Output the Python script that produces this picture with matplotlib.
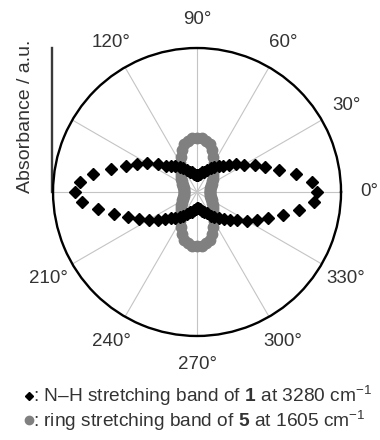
import numpy as np
import matplotlib
matplotlib.use("Agg")
import matplotlib.pyplot as plt
from matplotlib.lines import Line2D

plt.rcParams['font.family'] = ['Liberation Sans', 'DejaVu Sans']
plt.rcParams['mathtext.fontset'] = 'custom'
plt.rcParams['mathtext.rm'] = 'Liberation Sans'
plt.rcParams['mathtext.bf'] = 'Liberation Sans:bold'

# polarization angle (deg), every 5 deg
angle = np.arange(0, 360, 5)

# N-H stretching band of 1 at 3280 cm-1
nh_band = [1.00, 0.96, 0.84, 0.71, 0.60, 0.53, 0.45, 0.40, 0.35, 0.31, 0.28, 0.25,
           0.23, 0.20, 0.18, 0.17, 0.15, 0.14, 0.14, 0.14, 0.15, 0.17, 0.18, 0.20,
           0.23, 0.25, 0.28, 0.31, 0.34, 0.40, 0.48, 0.55, 0.63, 0.74, 0.88, 0.98,
           1.02, 0.96, 0.84, 0.72, 0.61, 0.53, 0.46, 0.40, 0.35, 0.31, 0.28, 0.25,
           0.23, 0.20, 0.18, 0.17, 0.15, 0.14, 0.13, 0.13, 0.14, 0.16, 0.18, 0.19,
           0.23, 0.25, 0.28, 0.32, 0.36, 0.41, 0.48, 0.55, 0.63, 0.74, 0.86, 0.98]

# ring stretching band of 5 at 1605 cm-1
ring_band = [0.11, 0.11, 0.11, 0.115, 0.12, 0.13, 0.14, 0.155, 0.17, 0.19, 0.21, 0.24,
             0.28, 0.32, 0.37, 0.41, 0.43, 0.45, 0.45, 0.45, 0.43, 0.41, 0.37, 0.32,
             0.28, 0.24, 0.21, 0.19, 0.17, 0.155, 0.14, 0.13, 0.12, 0.115, 0.11, 0.11,
             0.11, 0.11, 0.11, 0.115, 0.12, 0.13, 0.14, 0.155, 0.17, 0.19, 0.21, 0.24,
             0.28, 0.32, 0.37, 0.41, 0.43, 0.45, 0.45, 0.45, 0.43, 0.41, 0.37, 0.32,
             0.28, 0.24, 0.21, 0.19, 0.17, 0.155, 0.14, 0.13, 0.12, 0.115, 0.11, 0.11]

grid_angles = [0, 30, 60, 90, 120, 150, 180, 210, 240, 270, 300, 330]
angle_labels = ['0°', '30°', '60°', '90°', '120°', '', '', '210°', '240°', '270°', '300°', '330°']

r_max = 1.2
txt = '#333333'

fig = plt.figure(figsize=(3.8, 4.4), dpi=100)
ax = fig.add_axes([0.1395, 0.2364, 0.758, 0.6545], projection='polar')

th = np.radians(angle)
ax.plot(th, ring_band, 'o', ms=7.5, color='#808080', mec='#808080', ls='none', zorder=3)
ax.plot(th, nh_band, 'D', ms=6, color='black', ls='none', zorder=4)

ax.set_ylim(0, r_max)
ax.set_yticks([])
ax.set_thetagrids(grid_angles, labels=[''] * len(grid_angles))
ax.xaxis.grid(True, color='#c4c4c4', lw=0.8)
ax.spines['polar'].set_linewidth(1.7)
ax.spines['polar'].set_color('black')

for a, lab in zip(grid_angles, angle_labels):
    if lab:
        ax.text(np.radians(a), r_max * 1.195, lab, ha='center', va='center',
                fontsize=13.5, color=txt, clip_on=False)

# absorbance scale bar on the left
ax.add_line(Line2D([-0.004, -0.004], [0.5, 1.0], transform=ax.transAxes,
                   color='#3a3a3a', lw=1.7, clip_on=False))
fig.text(0.066, 0.736, 'Absorbance / a.u.', rotation=90, ha='center', va='center',
         fontsize=14, color=txt)

# legend lines
fig.add_artist(Line2D([29 / 380], [0.100], marker='D', ms=4.5, color='black',
                      ls='none', transform=fig.transFigure))
fig.text(33 / 380, 0.100, r': N–H stretching band of $\mathbf{1}$ at 3280 cm$^{-1}$',
         ha='left', va='center', fontsize=13.8, color=txt)
fig.add_artist(Line2D([28.5 / 380], [0.045], marker='o', ms=6, color='#808080',
                      ls='none', transform=fig.transFigure))
fig.text(33 / 380, 0.045, r': ring stretching band of $\mathbf{5}$ at 1605 cm$^{-1}$',
         ha='left', va='center', fontsize=13.8, color=txt)

fig.savefig('out.png', dpi=100)
